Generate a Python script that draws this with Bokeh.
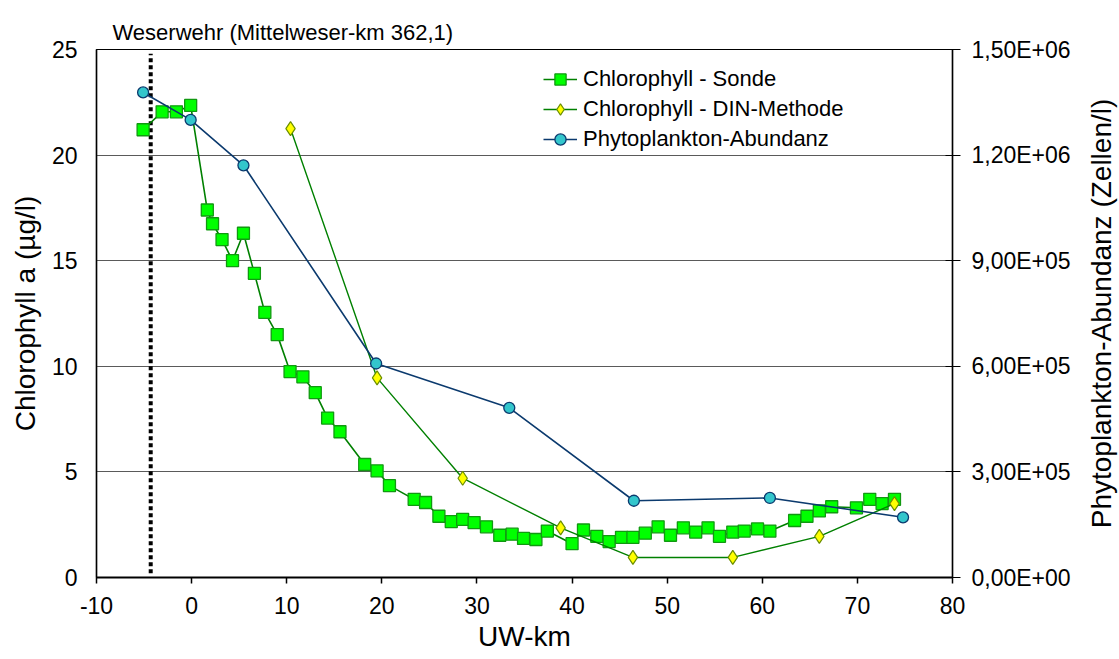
from bokeh.plotting import figure
from bokeh.models import (LinearAxis, Range1d, FixedTicker, CustomJSTickFormatter,
                          Legend, LegendItem, Title)
from bokeh.layouts import row
from bokeh.embed import file_html
from bokeh.resources import INLINE

# ---------------- data ----------------
sonde_km = [-5.1, -3.1, -1.6, -0.1, 1.65, 2.2, 3.2, 4.3, 5.45, 6.6, 7.7, 9.0, 10.35, 11.7,
            13.0, 14.3, 15.6, 18.2, 19.5, 20.8, 23.4, 24.6, 26.0, 27.3, 28.5, 29.7, 31.0,
            32.4, 33.7, 34.9, 36.2, 37.4, 40.0, 41.2, 42.6, 43.9, 45.2, 46.4, 47.7, 49.05,
            50.35, 51.7, 53.0, 54.3, 55.5, 56.9, 58.1, 59.5, 60.8, 63.4, 64.7, 66.0, 67.3,
            69.9, 71.3, 72.6, 73.9]
sonde_chl = [21.2, 22.05, 22.05, 22.35, 17.4, 16.75, 16.0, 15.0, 16.3, 14.4, 12.55, 11.5, 9.75,
             9.5, 8.75, 7.55, 6.9, 5.35, 5.05, 4.35, 3.7, 3.55, 2.9, 2.65, 2.75, 2.6, 2.4,
             2.0, 2.05, 1.85, 1.8, 2.2, 1.6, 2.25, 1.95, 1.7, 1.9, 1.9, 2.1, 2.4,
             2.0, 2.35, 2.15, 2.35, 1.95, 2.15, 2.2, 2.3, 2.2, 2.7, 2.9, 3.15, 3.35,
             3.3, 3.7, 3.5, 3.7]

din_km = [10.4, 19.5, 28.5, 38.8, 46.4, 56.9, 66.0, 73.9]
din_chl = [21.25, 9.45, 4.7, 2.35, 0.95, 0.95, 1.95, 3.5]

phyto_km = [-5.1, -0.1, 5.45, 19.4, 33.4, 46.5, 60.8, 74.8]
phyto_abund = [1.378e6, 1.30e6, 1.171e6, 6.08e5, 4.82e5, 2.18e5, 2.26e5, 1.71e5]

weir_km = [-4.3, -4.3]
weir_y = [0.2, 24.8]
weir_label = "Weserwehr (Mittelweser-km 362,1)"

x_ticks = [-10, 0, 10, 20, 30, 40, 50, 60, 70, 80]
y_ticks = [0, 5, 10, 15, 20, 25]
y2_ticks = [0, 3e5, 6e5, 9e5, 1.2e6, 1.5e6]

labels = ["Chlorophyll - Sonde", "Chlorophyll - DIN-Methode", "Phytoplankton-Abundanz"]
x_title = "UW-km"
y_title = "Chlorophyll a (µg/l)"
y2_title = "Phytoplankton-Abundanz (Zellen/l)"

FONT = "Liberation Sans"
TICK_FS = "23px"
TITLE_FS = "28px"

# ---------------- main figure ----------------
p = figure(width=1080, height=659, x_range=(-10, 80), y_range=(0, 25),
           output_backend="svg", toolbar_location=None,
           min_border_left=96, min_border_right=128, min_border_top=49, min_border_bottom=82)
p.title = Title(text=weir_label, align="left", offset=16, standoff=10,
                text_font=FONT, text_font_size="22px", text_font_style="normal",
                text_color="black")
p.background_fill_color = "white"
p.border_fill_color = "white"
p.outline_line_color = "black"
p.outline_line_width = 1.2

p.extra_y_ranges = {"phyto": Range1d(0, 1.5e6)}

p.xgrid.visible = False
p.ygrid.ticker = FixedTicker(ticks=y_ticks)
p.ygrid.grid_line_color = "#5a5a5a"
p.ygrid.grid_line_width = 1.2

# bottom axis
xa = p.xaxis[0]
xa.ticker = FixedTicker(ticks=x_ticks)
xa.formatter = CustomJSTickFormatter(code="return tick.toString();")
xa.axis_label = x_title
xa.axis_line_width = 2
xa.axis_line_color = "black"
xa.major_tick_out = 6
xa.major_tick_in = 0
xa.major_tick_line_width = 1.5
xa.minor_tick_line_color = None
xa.major_label_standoff = 13
xa.axis_label_standoff = 4

# left axis
ya = p.yaxis[0]
ya.ticker = FixedTicker(ticks=y_ticks)
ya.formatter = CustomJSTickFormatter(code="return tick.toString();")
ya.axis_label = y_title
ya.axis_line_width = 1.5
ya.major_tick_out = 0
ya.major_tick_in = 0
ya.minor_tick_line_color = None
ya.major_label_standoff = 19
ya.axis_label_standoff = 8

# right axis (ticks + labels)
fmt = CustomJSTickFormatter(code="""
var s = tick.toExponential(2);
var parts = s.split('e');
var m = parts[0].replace('.', ',');
var e = parseInt(parts[1]);
var sign = e < 0 ? '-' : '+';
var ae = Math.abs(e);
return m + 'E' + sign + (ae < 10 ? '0' : '') + ae;
""")
ya2 = LinearAxis(y_range_name="phyto", ticker=FixedTicker(ticks=y2_ticks), formatter=fmt)
ya2.axis_line_width = 1.5
ya2.major_tick_out = 8
ya2.major_tick_in = 7
ya2.minor_tick_line_color = None
ya2.major_label_standoff = 11
p.add_layout(ya2, "right")

for ax in [xa, ya, ya2]:
    ax.major_label_text_font = FONT
    ax.major_label_text_font_size = TICK_FS
    ax.major_label_text_color = "black"
    ax.axis_label_text_font = FONT
    ax.axis_label_text_font_size = TITLE_FS
    ax.axis_label_text_font_style = "normal"
    ax.axis_label_text_color = "black"

# weir dotted line
p.line(weir_km, weir_y, line_color="black", line_width=4, line_dash="4 3")

# series
l1 = p.line(sonde_km, sonde_chl, line_color="#008000", line_width=1.6)
s1 = p.scatter(sonde_km, sonde_chl, marker="square", size=12,
               fill_color="#00ff00", line_color="#119911", line_width=1.3)

l2 = p.line(din_km, din_chl, line_color="#008000", line_width=1.4)
s2 = p.scatter(din_km, din_chl, marker="diamond", size=14,
               fill_color="#ffff00", line_color="#6b8e00", line_width=1.2)

l3 = p.line(phyto_km, phyto_abund, y_range_name="phyto", line_color="#0b3a6e", line_width=1.6)
s3 = p.scatter(phyto_km, phyto_abund, y_range_name="phyto", marker="circle", size=11,
               fill_color="#33c6cc", line_color="#0b3a6e", line_width=1.3)

legend = Legend(items=[LegendItem(label=labels[0], renderers=[l1, s1]),
                       LegendItem(label=labels[1], renderers=[l2, s2]),
                       LegendItem(label=labels[2], renderers=[l3, s3])],
                location=(447, 424))
legend.background_fill_alpha = 0
legend.border_line_alpha = 0
legend.padding = 0
legend.margin = 0
legend.spacing = 2
legend.glyph_width = 34
legend.glyph_height = 28
legend.label_height = 28
legend.label_standoff = 6
legend.label_text_font = FONT
legend.label_text_font_size = "22px"
legend.label_text_color = "black"
p.add_layout(legend, "center")

# ---------------- narrow strip carrying the right-hand axis title ----------------
p2 = figure(width=39, height=659, x_range=(0, 1), y_range=(0, 1),
            output_backend="svg", toolbar_location=None, title=None,
            x_axis_location=None,
            min_border_left=37, min_border_right=0, min_border_top=49, min_border_bottom=82)
p2.outline_line_color = None
p2.background_fill_color = "white"
p2.border_fill_color = "white"
p2.xgrid.visible = False
p2.ygrid.visible = False
ta = p2.yaxis[0]
ta.ticker = FixedTicker(ticks=[])
ta.axis_line_color = None
ta.major_tick_line_color = None
ta.minor_tick_line_color = None
ta.axis_label = y2_title
ta.axis_label_standoff = 1
ta.axis_label_text_font = FONT
ta.axis_label_text_font_size = TITLE_FS
ta.axis_label_text_font_style = "normal"
ta.axis_label_text_color = "black"

layout = row(p, p2, spacing=0)
open("out.html", "w").write(file_html(layout, INLINE))
